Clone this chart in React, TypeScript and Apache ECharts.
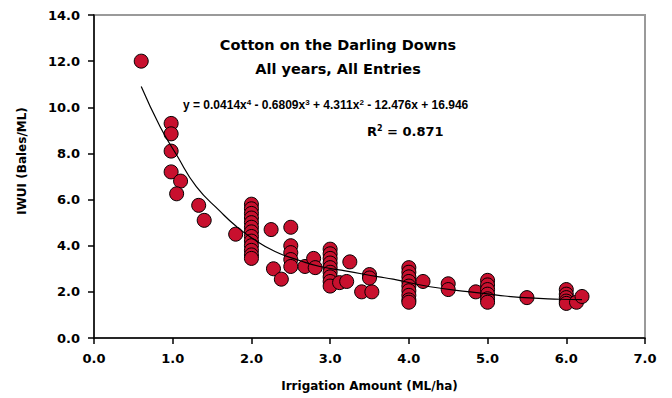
import React, { useEffect, useRef } from "react";
import * as echarts from "echarts";

const xTicks = [0, 1, 2, 3, 4, 5, 6, 7];
const yTicks = [0, 2, 4, 6, 8, 10, 12, 14];

const irrigation = [
  0.6,
  0.98, 0.98, 0.98, 0.98, 1.1, 1.05, 1.33, 1.4, 1.8,
  2.0, 2.0, 2.0, 2.0, 2.0, 2.0, 2.0, 2.0, 2.0, 2.0, 2.0, 2.0, 2.0,
  2.25, 2.5, 2.5, 2.5, 2.5, 2.5, 2.28, 2.38, 2.68, 2.79, 2.81,
  3.0, 3.0, 3.0, 3.0, 3.0, 3.0, 3.0, 3.0, 3.0,
  3.12, 3.21, 3.25, 3.4, 3.53, 3.5, 3.5,
  4.0, 4.0, 4.0, 4.0, 4.0, 4.0, 4.0, 4.0, 4.0,
  4.18, 4.5, 4.5, 4.85,
  5.0, 5.0, 5.0, 5.0, 5.0, 5.0,
  5.5,
  6.0, 6.0, 6.0, 6.0, 6.0, 6.13, 6.2,
];
const iwui = [
  12.0,
  9.3, 8.85, 8.1, 7.2, 6.8, 6.25, 5.75, 5.1, 4.5,
  5.8, 5.6, 5.4, 5.2, 5.0, 4.8, 4.6, 4.4, 4.2, 4.0, 3.8, 3.6, 3.45,
  4.7, 4.8, 4.0, 3.7, 3.4, 3.1, 3.0, 2.55, 3.1, 3.45, 3.05,
  3.85, 3.65, 3.45, 3.25, 3.05, 2.85, 2.65, 2.45, 2.25,
  2.4, 2.45, 3.3, 2.0, 2.0, 2.75, 2.6,
  3.05, 2.85, 2.65, 2.45, 2.25, 2.05, 1.85, 1.65, 1.55,
  2.45, 2.35, 2.1, 2.0,
  2.5, 2.3, 2.1, 1.9, 1.7, 1.55,
  1.75,
  2.1, 1.9, 1.75, 1.6, 1.5, 1.55, 1.8,
];

const trendX = [0.6, 0.84, 1.05, 1.3, 1.6, 1.81, 2.0, 2.3, 2.62, 2.87, 3.21, 3.6, 3.8, 4.27, 4.78, 5.12, 5.41, 5.92, 6.2];
const trendY = [10.9, 9.16, 7.93, 6.56, 5.5, 4.83, 4.35, 3.75, 3.35, 3.1, 2.9, 2.66, 2.55, 2.22, 2.0, 1.86, 1.76, 1.68, 1.66];

const titleLines = ["Cotton on the Darling Downs", "All years, All Entries"];
const eqText = "y = 0.0414x{s|4} - 0.6809x{s|3} + 4.311x{s|2} - 12.476x + 16.946";
const r2Text = "R{s|2} = 0.871";

const FONT = "DejaVu Sans";
const EQ_FONT = "Liberation Sans";

export default function App() {
  const ref = useRef<HTMLDivElement>(null);
  useEffect(() => {
    if (!ref.current) return;
    const chart = echarts.init(ref.current, null, { renderer: "svg" });
    const labelStyle = { fontFamily: FONT, fontWeight: "bold" as const, fontSize: 13, color: "#000" };
    chart.setOption({
      animation: false,
      backgroundColor: "#fff",
      grid: { left: 94, right: 27, top: 15, bottom: 60, show: true, borderColor: "#9a9a9a", borderWidth: 2, backgroundColor: "transparent" },
      xAxis: {
        type: "value",
        min: xTicks[0],
        max: xTicks[xTicks.length - 1],
        interval: 1,
        name: "Irrigation Amount (ML/ha)",
        nameLocation: "middle",
        nameGap: 42,
        nameTextStyle: { ...labelStyle, fontSize: 12 },
        axisLine: { show: true, lineStyle: { color: "#000", width: 1.5 } },
        axisTick: { show: true, length: 6, lineStyle: { color: "#000", width: 1.5 } },
        axisLabel: { ...labelStyle, margin: 14, formatter: (v: number) => v.toFixed(1) },
        splitLine: { show: false },
        z: 5,
      },
      yAxis: {
        type: "value",
        min: yTicks[0],
        max: yTicks[yTicks.length - 1],
        interval: 2,
        axisLine: { show: true, lineStyle: { color: "#000", width: 1.5 } },
        axisTick: { show: true, length: 6, lineStyle: { color: "#000", width: 1.5 } },
        axisLabel: { ...labelStyle, margin: 14, formatter: (v: number) => v.toFixed(1) },
        splitLine: { show: false },
        z: 5,
      },
      graphic: [
        {
          type: "text",
          x: 22,
          y: 161,
          rotation: Math.PI / 2,
          style: { text: "IWUI (Bales/ML)", font: `bold 12px "${FONT}"`, fill: "#000", align: "center", verticalAlign: "middle" },
        },
        {
          type: "text",
          x: 338,
          y: 45,
          style: { text: titleLines[0], font: `bold 14.5px "${FONT}"`, fill: "#000", align: "center", verticalAlign: "middle" },
        },
        {
          type: "text",
          x: 338,
          y: 69,
          style: { text: titleLines[1], font: `bold 14.5px "${FONT}"`, fill: "#000", align: "center", verticalAlign: "middle" },
        },
        {
          type: "text",
          x: 183,
          y: 105,
          style: {
            text: eqText,
            font: `bold 12px "${EQ_FONT}"`,
            fill: "#000",
            verticalAlign: "middle",
            rich: {
              s: { fontSize: 8, fontWeight: "bold", fontFamily: EQ_FONT, padding: [0, 0, 6, 0] },
            },
          },
        },
        {
          type: "text",
          x: 367,
          y: 131,
          style: {
            text: r2Text,
            font: `bold 13px "${FONT}"`,
            fill: "#000",
            verticalAlign: "middle",
            rich: {
              s: { fontSize: 8, fontWeight: "bold", fontFamily: FONT, padding: [0, 0, 6, 0] },
            },
          },
        },
      ],
      series: [
        {
          type: "scatter",
          data: irrigation.map((x, i) => [x, iwui[i]]),
          symbol: "circle",
          symbolSize: 14,
          itemStyle: { color: "#C8102E", borderColor: "#000", borderWidth: 1, opacity: 1 },
          z: 2,
        },
        {
          type: "line",
          data: trendX.map((x, i) => [x, trendY[i]]),
          smooth: true,
          showSymbol: false,
          lineStyle: { color: "#000", width: 1.2 },
          z: 3,
        },
      ],
    });
    return () => chart.dispose();
  }, []);
  return <div ref={ref} style={{ width: 672, height: 398, position: "absolute", left: 0, top: 0 }} />;
}
